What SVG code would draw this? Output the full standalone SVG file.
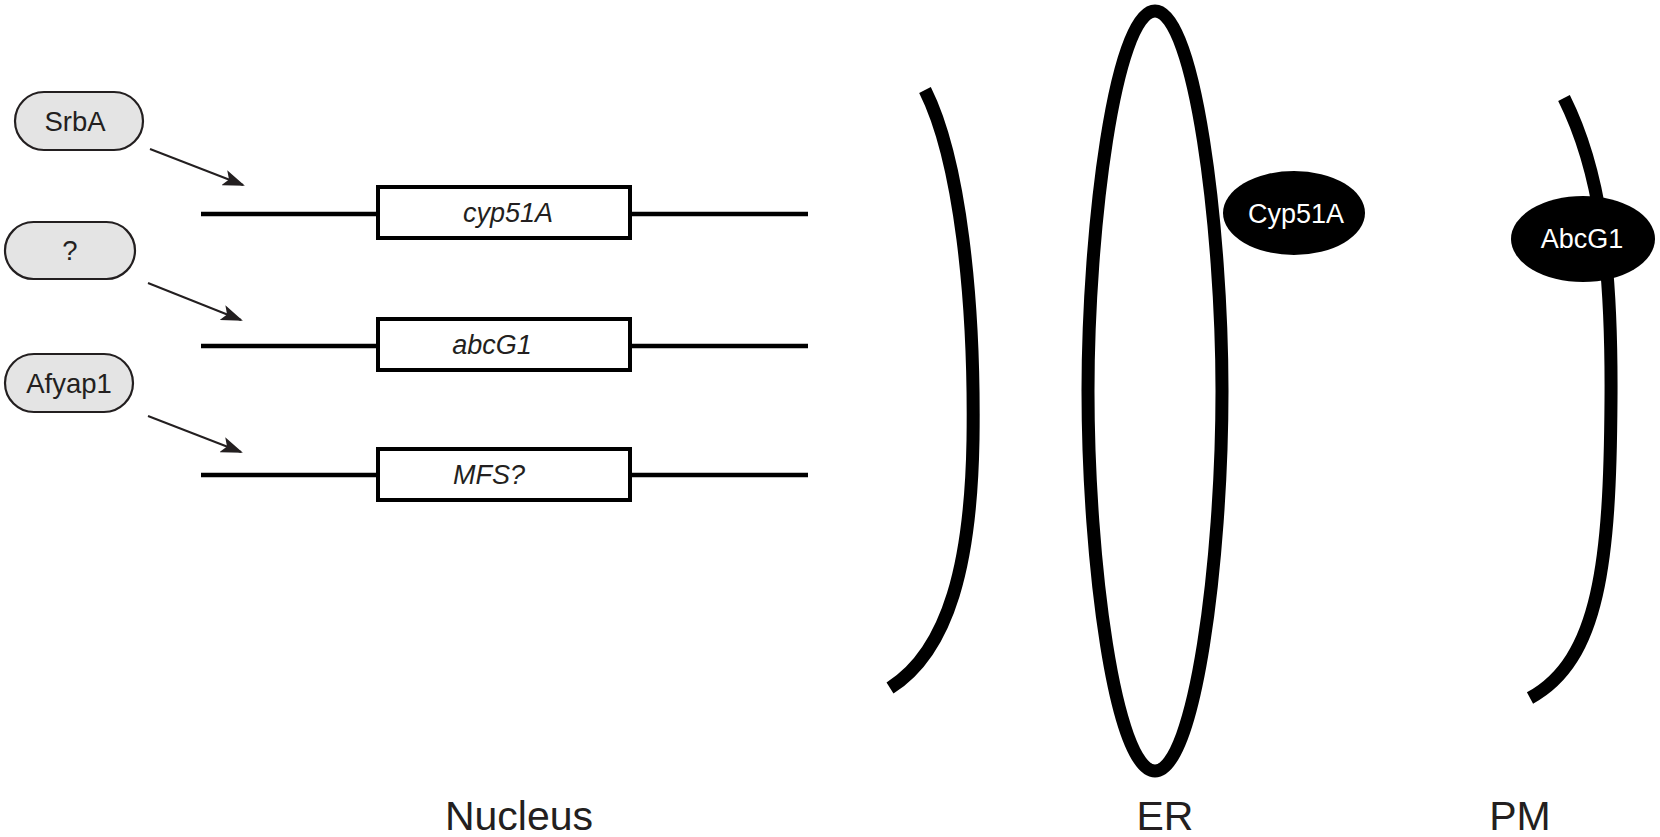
<svg xmlns="http://www.w3.org/2000/svg" width="1660" height="837" viewBox="0 0 1660 837">
<style>
.pill{fill:#e4e4e4;stroke:#231f20;stroke-width:2.2}
.lbl{font-family:"Liberation Sans",Arial,sans-serif;font-size:27.5px;fill:#231f20;text-anchor:middle}
.gene{font-family:"Liberation Sans",Arial,sans-serif;font-style:italic;font-size:27px;fill:#231f20;text-anchor:middle}
.box{fill:#fff;stroke:#000;stroke-width:4}
.dna{stroke:#000;stroke-width:4.5;fill:none}
.mem{fill:none;stroke:#000;stroke-width:13;stroke-linecap:butt}
.prot{fill:#000}
.ptxt{font-family:"Liberation Sans",Arial,sans-serif;font-size:27px;fill:#fff;text-anchor:middle}
.arr{stroke:#231f20;stroke-width:2;fill:none;marker-end:url(#ah)}
.big{font-family:"Liberation Sans",Arial,sans-serif;font-size:41px;fill:#231f20;text-anchor:middle}
</style>
<defs>
<marker id="ah" viewBox="0 0 22 16" refX="20" refY="8" markerWidth="22" markerHeight="16" markerUnits="userSpaceOnUse" orient="auto">
<path d="M0,0 L22,8 L0,16 L5,8 Z" fill="#231f20"/>
</marker>
</defs>
<rect width="1660" height="837" fill="#fff"/>

<g id="SrbA">
<rect class="pill" x="15" y="92" width="128" height="58" rx="29"/>
<text class="lbl" x="75" y="131">SrbA</text>
</g>
<g id="unknown">
<rect class="pill" x="5" y="222" width="130" height="57" rx="28.5"/>
<text class="lbl" x="70" y="260">?</text>
</g>
<g id="Afyap1">
<rect class="pill" x="5" y="354" width="128" height="58" rx="29"/>
<text class="lbl" x="69" y="393">Afyap1</text>
</g>

<g id="connectors">
<line class="arr" x1="150" y1="149" x2="243" y2="185"/>
<line class="arr" x1="148" y1="283" x2="241" y2="320"/>
<line class="arr" x1="148" y1="416" x2="241" y2="452"/>
</g>

<g id="gene-cyp51A">
<line class="dna" x1="201" y1="214" x2="808" y2="214"/>
<rect class="box" x="378" y="187" width="252" height="51"/>
<text class="gene" x="508" y="222">cyp51A</text>
</g>
<g id="gene-abcG1">
<line class="dna" x1="201" y1="346" x2="808" y2="346"/>
<rect class="box" x="378" y="319" width="252" height="51"/>
<text class="gene" x="492" y="354">abcG1</text>
</g>
<g id="gene-MFS">
<line class="dna" x1="201" y1="475" x2="808" y2="475"/>
<rect class="box" x="378" y="449" width="252" height="51"/>
<text class="gene" x="489" y="484">MFS?</text>
</g>

<g id="nucleus-membrane">
<path class="mem" d="M925,90 C960,160 975,300 973,440 C971,560 950,650 890,688"/>
</g>
<g id="ER">
<path class="mem" d="M1155,11 C1195,11 1222,230 1222,391 C1222,560 1195,771 1155,771 C1115,771 1088,560 1088,391 C1088,230 1115,11 1155,11 Z"/>
</g>
<g id="Cyp51A">
<ellipse class="prot" cx="1294" cy="213" rx="71" ry="42"/>
<text class="ptxt" x="1296" y="223">Cyp51A</text>
</g>
<g id="PM">
<path class="mem" d="M1564,98 C1600,170 1612,260 1611,400 C1610,560 1600,660 1530,698"/>
</g>
<g id="AbcG1">
<ellipse class="prot" cx="1583" cy="239" rx="72" ry="43"/>
<text class="ptxt" x="1582" y="248">AbcG1</text>
</g>

<g id="labels">
<text class="big" x="519" y="830">Nucleus</text>
<text class="big" x="1165" y="830">ER</text>
<text class="big" x="1520" y="830">PM</text>
</g>
</svg>
